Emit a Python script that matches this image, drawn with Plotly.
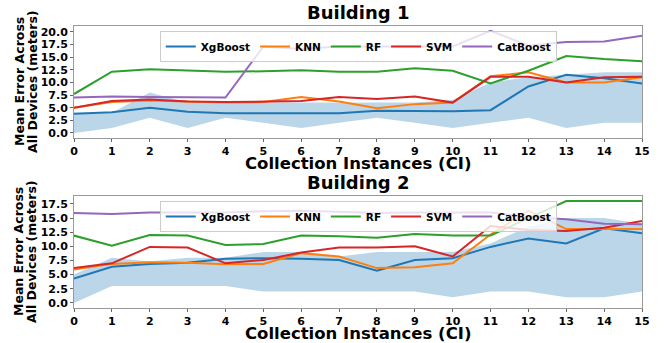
import plotly.graph_objects as go

# Collection instances on the x axis
ci = list(range(16))
ci_ticks = [str(i) for i in ci]

# Building 1: mean error (meters) per model
b1_xgboost = [3.8, 4.1, 5.0, 4.2, 3.9, 3.9, 4.0, 3.9, 4.4, 4.4, 4.3, 4.5, 9.2, 11.5, 10.8, 9.8]
b1_knn = [5.0, 6.1, 6.4, 6.2, 6.0, 6.1, 7.1, 6.2, 4.9, 5.7, 6.0, 11.2, 12.0, 10.0, 10.0, 11.0]
b1_rf = [7.7, 12.1, 12.6, 12.4, 12.1, 12.2, 12.4, 12.1, 12.1, 12.8, 12.3, 9.8, 12.3, 15.2, 14.6, 14.2]
b1_svm = [5.0, 6.3, 6.6, 6.2, 6.1, 6.2, 6.3, 7.1, 6.7, 7.2, 6.0, 11.1, 11.1, 10.0, 11.0, 11.1]
b1_catboost = [7.0, 7.2, 7.1, 7.0, 7.0, 17.1, 16.6, 17.1, 17.1, 17.1, 17.1, 20.2, 17.3, 18.0, 18.1, 19.2]
b1_band_low = [0, 1, 3, 1, 3, 2, 1, 2, 3, 2, 1, 2, 3, 1, 2, 2]
b1_band_high = [4, 4, 8, 6, 6, 6, 6, 6, 6, 6, 6.5, 10, 11, 11.5, 12, 12]

# Building 2: mean error (meters) per model
b2_xgboost = [4.3, 6.4, 6.9, 7.1, 7.8, 7.9, 7.8, 7.6, 5.7, 7.6, 7.9, 9.9, 11.4, 10.5, 13.2, 12.3]
b2_knn = [5.9, 6.9, 7.2, 7.1, 6.85, 6.9, 8.8, 8.2, 6.15, 6.3, 7.0, 12.1, 16.3, 13.05, 13.05, 13.05]
b2_rf = [11.9, 10.1, 12.0, 11.9, 10.25, 10.4, 11.9, 11.8, 11.5, 12.2, 11.9, 11.9, 15.0, 18.0, 18.0, 18.0]
b2_svm = [6.15, 7.0, 9.9, 9.8, 7.0, 7.6, 8.9, 9.8, 9.8, 10.0, 8.2, 13.6, 12.9, 12.7, 13.3, 14.5]
b2_catboost = [15.9, 15.7, 16.0, 16.0, 16.0, 16.2, 16.3, 16.1, 15.9, 16.0, 16.0, 16.0, 15.2, 14.8, 14.0, 13.9]
b2_band_low = [0, 3, 3, 3, 3, 2, 2, 2, 2, 2, 1, 2, 2, 1, 1, 2]
b2_band_high = [5, 8, 7.3, 8, 8, 9, 9, 8.2, 9, 9, 9, 10.5, 13.5, 15, 15, 14]

model_names = ["XgBoost", "KNN", "RF", "SVM", "CatBoost"]
model_colors = ["#1f77b4", "#ff7f0e", "#2ca02c", "#d62728", "#9467bd"]
band_color = "rgba(31,119,180,0.3)"

FONT = "DejaVu Sans"

fig = go.Figure()


def add_panel(fig, xa, ya, legend, band_low, band_high, series):
    # shaded range band
    fig.add_trace(go.Scatter(x=ci, y=band_low, mode="lines", line=dict(width=0),
                             hoverinfo="skip", showlegend=False, xaxis=xa, yaxis=ya))
    fig.add_trace(go.Scatter(x=ci, y=band_high, mode="lines", line=dict(width=0),
                             fill="tonexty", fillcolor=band_color, hoverinfo="skip",
                             showlegend=False, xaxis=xa, yaxis=ya))
    for name, color, vals in zip(model_names, model_colors, series):
        fig.add_trace(go.Scatter(x=ci, y=vals, mode="lines", name=name,
                                 line=dict(color=color, width=2),
                                 xaxis=xa, yaxis=ya, legend=legend))


add_panel(fig, "x", "y", "legend", b1_band_low, b1_band_high,
          [b1_xgboost, b1_knn, b1_rf, b1_svm, b1_catboost])
add_panel(fig, "x2", "y2", "legend2", b2_band_low, b2_band_high,
          [b2_xgboost, b2_knn, b2_rf, b2_svm, b2_catboost])

axis_common = dict(showline=True, mirror=True, linecolor="#999", linewidth=1,
                   showgrid=False, zeroline=False, ticks="outside", ticklen=3,
                   tickcolor="#666", tickfont=dict(family=FONT, size=11, color="black", weight="bold"))

x_common = dict(axis_common, range=[0, 15], tickmode="array", tickvals=ci, ticktext=ci_ticks)
y_common = dict(axis_common, tickmode="array",
                tickvals=[0, 2.5, 5, 7.5, 10, 12.5, 15, 17.5, 20], tickformat=".1f")

top_dom = [0.6028, 1.0]
bot_dom = [0.0, 0.3972]

legend_common = dict(orientation="h", bgcolor="rgba(255,255,255,0.8)", bordercolor="#ccc",
                     borderwidth=1, xanchor="left", yanchor="top", traceorder="normal",
                     font=dict(family=FONT, size=10.5, color="black", weight="bold"),
                     tracegroupgap=0)

fig.update_layout(
    width=670, height=343,
    margin=dict(l=74, r=28, t=26, b=35),
    plot_bgcolor="white", paper_bgcolor="white",
    font=dict(family=FONT, color="black"),
    xaxis=dict(x_common, domain=[0, 1], anchor="y"),
    yaxis=dict(y_common, domain=top_dom, range=[-1.0, 21.15], anchor="x"),
    xaxis2=dict(x_common, domain=[0, 1], anchor="y2"),
    yaxis2=dict(y_common, domain=bot_dom, range=[-0.9, 18.9], anchor="x2"),
    legend=dict(legend_common, x=0.151, y=0.982),
    legend2=dict(legend_common, x=0.151, y=0.379),
    showlegend=True,
)

# panel titles
for txt, ypos in [("Building 1", 1.0496), ("Building 2", 0.4468)]:
    fig.add_annotation(text=txt, xref="paper", yref="paper", x=0.5, y=ypos,
                       xanchor="center", yanchor="middle", showarrow=False,
                       font=dict(family=FONT, size=18, color="black", weight="bold"))

# x axis titles
for ypos in [0.511, -0.089]:
    fig.add_annotation(text="Collection Instances (CI)", xref="paper", yref="paper",
                       x=0.5, y=ypos, xanchor="center", yanchor="middle", showarrow=False,
                       font=dict(family=FONT, size=16.5, color="black", weight="bold"))

# y axis titles (two lines each)
for dom in [top_dom, bot_dom]:
    ymid = (dom[0] + dom[1]) / 2
    for line, shift in [("Mean Error Across", -55), ("All Devices (meters)", -42)]:
        fig.add_annotation(text=line, xref="paper", yref="paper", x=0, y=ymid,
                           xshift=shift, xanchor="center", yanchor="middle",
                           textangle=-90, showarrow=False,
                           font=dict(family=FONT, size=12.5, color="black", weight="bold"))

fig.write_html("out.html")
